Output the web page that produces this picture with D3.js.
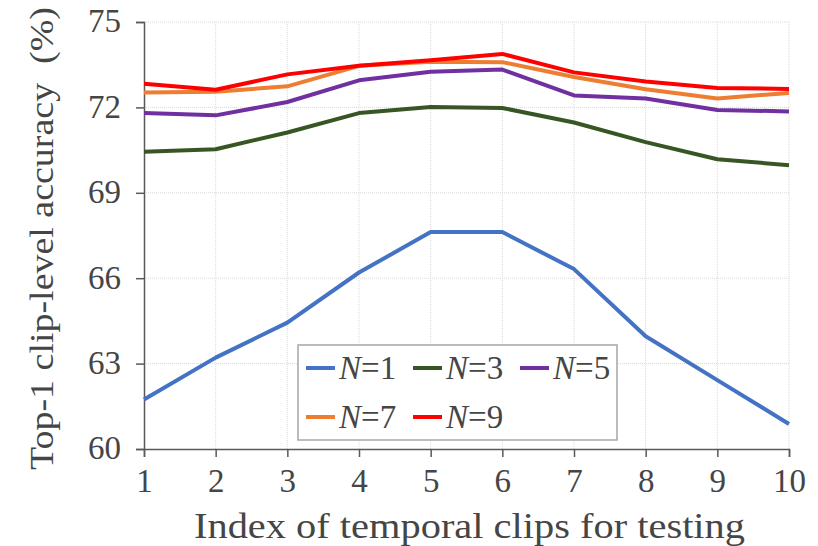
<!DOCTYPE html>
<html>
<head>
<meta charset="utf-8">
<script src="https://cdn.jsdelivr.net/npm/d3@7"></script>
<style>
  body { margin: 0; background: #fff; }
  svg { display: block; font-family: "Liberation Serif", "Times New Roman", serif; }
</style>
</head>
<body>
<svg id="chart" width="818" height="546"></svg>
<script>
// ---- data ----
const clipIndex = [1, 2, 3, 4, 5, 6, 7, 8, 9, 10];
const yTicks = [60, 63, 66, 69, 72, 75];
const seriesNames = ['1', '3', '5', '7', '9'];
const seriesColors = ['#4472C4', '#375623', '#7030A0', '#ED7D31', '#FF0000'];

const accN1 = [61.74, 63.21, 64.44, 66.20, 67.62, 67.62, 66.32, 63.96, 62.42, 60.88];
const accN3 = [70.44, 70.53, 71.12, 71.80, 72.01, 71.98, 71.47, 70.78, 70.18, 69.97];
const accN5 = [71.80, 71.72, 72.19, 72.95, 73.25, 73.33, 72.42, 72.31, 71.91, 71.86];
const accN7 = [72.52, 72.55, 72.74, 73.46, 73.60, 73.59, 73.07, 72.64, 72.31, 72.51];
const accN9 = [72.83, 72.62, 73.16, 73.46, 73.66, 73.88, 73.23, 72.91, 72.68, 72.65];

const seriesValues = [accN1, accN3, accN5, accN7, accN9];

// ---- layout ----
const svg = d3.select('#chart');
const margin = { left: 144, right: 29, top: 22, bottom: 97 };
const width = 818 - margin.left - margin.right;
const height = 546 - margin.top - margin.bottom;
const axisColor = '#595959';
const textColor = '#454545';

const x = d3.scaleLinear().domain([1, 10]).range([0, width]);
const y = d3.scaleLinear().domain([60, 75]).range([height, 0]);

const g = svg.append('g').attr('transform', `translate(${margin.left},${margin.top})`);

// dotted gridlines
g.append('g')
  .selectAll('line')
  .data(yTicks.filter(d => d !== 60))
  .join('line')
  .attr('x1', 0).attr('x2', width)
  .attr('y1', d => y(d)).attr('y2', d => y(d))
  .attr('stroke', '#d9d9d9')
  .attr('stroke-width', 1)
  .attr('stroke-dasharray', '1,1');

g.append('g')
  .selectAll('line')
  .data(clipIndex.filter(d => d !== 1))
  .join('line')
  .attr('x1', d => x(d)).attr('x2', d => x(d))
  .attr('y1', 0).attr('y2', height)
  .attr('stroke', '#d9d9d9')
  .attr('stroke-width', 1)
  .attr('stroke-dasharray', '1,1');

// axes
const xAxis = g.append('g')
  .attr('transform', `translate(0,${height})`)
  .call(d3.axisBottom(x).tickValues(clipIndex).tickSize(8).tickPadding(12).tickFormat(d3.format('d')));

const yAxis = g.append('g')
  .call(d3.axisLeft(y).tickValues(yTicks).tickSize(8).tickPadding(15));

[xAxis, yAxis].forEach(ax => {
  ax.select('.domain').attr('stroke', axisColor).attr('stroke-width', 1.5);
  ax.selectAll('.tick line').attr('stroke', axisColor).attr('stroke-width', 1.5);
  ax.selectAll('.tick text')
    .attr('fill', textColor)
    .style('font-family', '"Liberation Serif", serif')
    .style('font-size', '33px');
});
xAxis.selectAll('.tick text').attr('dy', '0.71em');
yAxis.selectAll('.tick text').attr('dy', '0.3em');

// series lines
const line = d3.line()
  .x((d, i) => x(clipIndex[i]))
  .y(d => y(d));

g.append('g')
  .selectAll('path')
  .data(seriesValues)
  .join('path')
  .attr('d', d => line(d))
  .attr('fill', 'none')
  .attr('stroke', (d, i) => seriesColors[i])
  .attr('stroke-width', 4)
  .attr('stroke-linejoin', 'round');

// axis titles
svg.append('text')
  .attr('x', 194)
  .attr('y', 538)
  .attr('fill', textColor)
  .attr('textLength', 551)
  .attr('lengthAdjust', 'spacingAndGlyphs')
  .style('font-size', '36px')
  .text('Index of temporal clips for testing');

svg.append('text')
  .attr('transform', 'translate(53,470) rotate(-90)')
  .attr('fill', textColor)
  .attr('textLength', 463)
  .attr('lengthAdjust', 'spacingAndGlyphs')
  .style('font-size', '34px')
  .style('white-space', 'pre')
  .text('Top-1 clip-level accuracy  (%)');

// legend
const legend = svg.append('g').attr('transform', 'translate(298,345)');
legend.append('rect')
  .attr('width', 319).attr('height', 95)
  .attr('fill', '#fff')
  .attr('stroke', '#a6a6a6')
  .attr('stroke-width', 1.5);

const legendItems = legend.selectAll('g.item')
  .data(seriesNames)
  .join('g')
  .attr('class', 'item')
  .attr('transform', (d, i) => `translate(${8 + (i % 3) * 107},${i < 3 ? 23 : 72})`);

legendItems.append('line')
  .attr('x1', 0).attr('x2', 29)
  .attr('stroke', (d, i) => seriesColors[i])
  .attr('stroke-width', 4);

const legendText = legendItems.append('text')
  .attr('x', 33)
  .attr('dy', '0.34em')
  .attr('fill', textColor)
  .style('font-size', '33px');
legendText.append('tspan').style('font-style', 'italic').text('N');
legendText.append('tspan').text(d => '=' + d);
</script>
</body>
</html>
